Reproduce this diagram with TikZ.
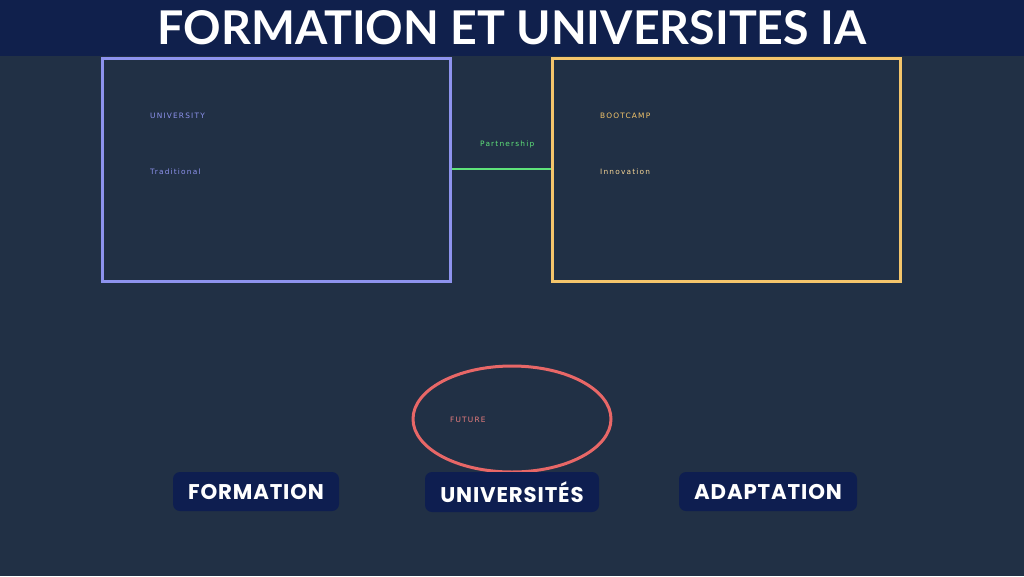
\documentclass[tikz,border=0pt]{standalone}
\usepackage{fontspec}
\setmainfont{Liberation Sans}
\newfontfamily\titlefont{Lato}
\newfontfamily\pillfont[LetterSpace=4]{Poppins}
\newfontfamily\smallfont[LetterSpace=16]{DejaVu Sans}
\usetikzlibrary{shapes.geometric}
\definecolor{bg}{HTML}{213045}
\definecolor{hdr}{HTML}{10204C}
\definecolor{lav}{HTML}{8E93EE}
\definecolor{gold}{HTML}{F4C56B}
\definecolor{grn}{HTML}{5FE37A}
\definecolor{red}{HTML}{E86767}
\definecolor{pill}{HTML}{0E1E50}
\tikzset{
  panel/.style={draw, line width=3pt, fill=bg, inner sep=0pt, anchor=north west},
  small/.style={font=\smallfont\fontsize{7.4}{8}\selectfont, anchor=west, inner sep=0pt},
  pillbox/.style={fill=pill, rounded corners=7pt, inner sep=0pt, text=white, font=\pillfont\bfseries\fontsize{21.3}{24}\selectfont}
}
\begin{document}
\begin{tikzpicture}[x=1pt,y=-1pt]
\fill[bg] (0,0) rectangle (1024,576);
\fill[hdr] (0,0) rectangle (1024,56);
\useasboundingbox (0,0) rectangle (1024,576);
\node[text=white, font=\titlefont\bfseries\fontsize{46.5}{50}\selectfont, inner sep=0pt] (title) at (512,27.5) {FORMATION ET UNIVERSITES IA};
\node[panel, draw=lav, minimum width=348pt, minimum height=223pt] (uni) at (101,57) {};
\node[panel, draw=gold, minimum width=348pt, minimum height=223pt] (boot) at (551,57) {};
\draw[grn, line width=2pt] (uni.east |- 0,169) coordinate (pa) -- (boot.west |- 0,169) coordinate (pb);
\node[small, text=grn] (part) at (480,144) {Partnership};
\node[small, text=lav] (t1) at (150,115.5) {UNIVERSITY};
\node[small, text=lav] (t2) at (150,172) {Traditional};
\node[small, text=gold] (t3) at (600,115.5) {BOOTCAMP};
\node[small, text=gold!70!white] (t4) at (600,172) {Innovation};
\node[ellipse, draw=red, line width=3pt, minimum width=198pt, minimum height=106pt, inner sep=0pt] (fut) at (512,419) {};
\node[small, text=red!85!white] (ft) at (450,419.5) {FUTURE};
\node[pillbox, minimum width=166pt, minimum height=39pt] (p1) at (256,491.5) {FORMATION};
\node[pillbox, minimum width=174pt, minimum height=40pt] (p2) at (512,492) {\raisebox{-2pt}{UNIVERSITÉS}};
\node[pillbox, minimum width=178pt, minimum height=39pt] (p3) at (768,491.5) {ADAPTATION};
\end{tikzpicture}
\end{document}
